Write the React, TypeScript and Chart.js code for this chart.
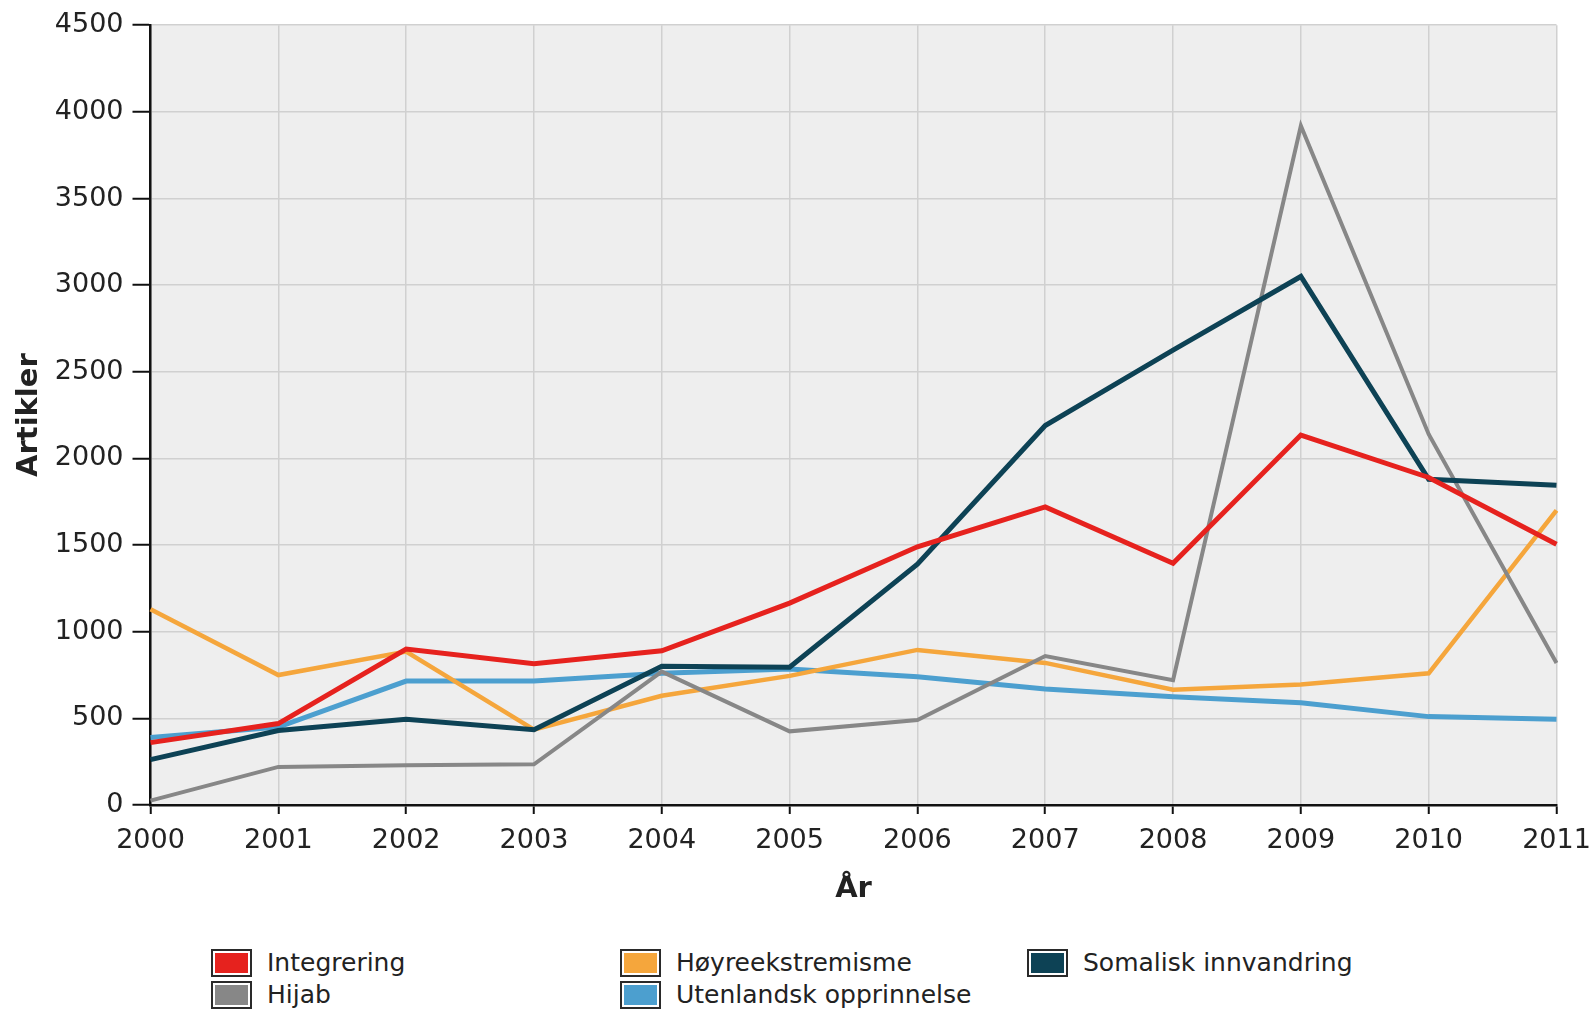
import React, { useEffect, useRef } from "react";
import { Chart, registerables } from "chart.js";

Chart.register(...registerables);

const years = ["2000", "2001", "2002", "2003", "2004", "2005", "2006", "2007", "2008", "2009", "2010", "2011"];
const integrering = [360, 470, 900, 815, 890, 1165, 1490, 1720, 1395, 2135, 1890, 1505];
const hijab = [25, 220, 230, 235, 770, 425, 490, 860, 720, 3920, 2140, 820];
const hoyreekstremisme = [1130, 750, 885, 435, 630, 745, 895, 820, 665, 695, 760, 1700];
const utenlandsk = [390, 450, 715, 715, 760, 785, 740, 670, 625, 590, 510, 495];
const somalisk = [262, 430, 495, 435, 800, 795, 1390, 2190, 2625, 3050, 1880, 1845];
const yMin = 0;
const yMax = 4500;
const yStep = 500;

const COLORS = {
  red: "#e6221e",
  gray: "#878787",
  orange: "#f5a63c",
  blue: "#4c9fcf",
  teal: "#0d4255",
};

const legendItems = [
  { label: "Integrering", color: COLORS.red, col: 0, row: 0 },
  { label: "Hijab", color: COLORS.gray, col: 0, row: 1 },
  { label: "Høyreekstremisme", color: COLORS.orange, col: 1, row: 0 },
  { label: "Utenlandsk opprinnelse", color: COLORS.blue, col: 1, row: 1 },
  { label: "Somalisk innvandring", color: COLORS.teal, col: 2, row: 0 },
];
const legendColX = [211, 620, 1027];
const legendRowY = [949, 981];

const plotBg = {
  id: "plotBg",
  beforeDraw(chart: any) {
    const { ctx, chartArea: a } = chart;
    ctx.save();
    ctx.fillStyle = "#eeeeee";
    ctx.fillRect(a.left, a.top, a.right - a.left, a.bottom - a.top);
    ctx.restore();
  },
};

export default function App() {
  const ref = useRef<HTMLCanvasElement | null>(null);

  useEffect(() => {
    if (!ref.current) return;
    Chart.defaults.font.family = "'DejaVu Sans', sans-serif";
    const ds = (label: string, data: number[], color: string, order: number, width = 5) => ({
      label,
      data,
      borderColor: color,
      backgroundColor: color,
      borderWidth: width,
      pointRadius: 0,
      tension: 0,
      fill: false,
      order,
    });
    const chart = new Chart(ref.current, {
      type: "line",
      data: {
        labels: years,
        datasets: [
          ds("Integrering", integrering, COLORS.red, 0),
          ds("Hijab", hijab, COLORS.gray, 2, 4),
          ds("Høyreekstremisme", hoyreekstremisme, COLORS.orange, 3, 4.5),
          ds("Utenlandsk opprinnelse", utenlandsk, COLORS.blue, 4),
          ds("Somalisk innvandring", somalisk, COLORS.teal, 1),
        ],
      },
      options: {
        animation: false,
        responsive: false,
        layout: { padding: { left: 0, top: 25, right: 83.5, bottom: 0 } },
        plugins: { legend: { display: false }, tooltip: { enabled: false } },
        scales: {
          x: {
            grid: { color: "#d0d0d0", lineWidth: 1.5, tickColor: "#111", tickLength: 9, tickWidth: 2 },
            border: { color: "#111", width: 2.5 },
            ticks: { padding: 11, color: "#222", font: { size: 27 }, maxRotation: 0, autoSkip: false },
            title: {
              display: true,
              text: "År",
              color: "#222",
              font: { size: 29, weight: "bold" },
              padding: { top: 4, bottom: 8 },
            },
            afterFit: (s: any) => {
              s.height = 110;
            },
          },
          y: {
            min: yMin,
            max: yMax,
            ticks: {
              stepSize: yStep,
              padding: 9,
              color: "#222",
              font: { size: 27 },
              callback: (v: any) => String(v),
            },
            grid: { color: "#d0d0d0", lineWidth: 1.5, tickColor: "#111", tickLength: 18, tickWidth: 2 },
            border: { color: "#111", width: 2.5 },
            title: {
              display: true,
              text: "Artikler",
              color: "#222",
              font: { size: 29, weight: "bold" },
              padding: { top: 12, bottom: 0 },
            },
            afterFit: (s: any) => {
              s.width = 150.5;
            },
          },
        },
      },
      plugins: [plotBg],
    } as any);
    return () => chart.destroy();
  }, []);

  return (
    <div
      style={{
        position: "fixed",
        left: 0,
        top: 0,
        width: 1595,
        height: 1011,
        overflow: "hidden",
        background: "#fff",
        fontFamily: "'DejaVu Sans', sans-serif",
      }}
    >
      <canvas ref={ref} width={1640} height={915} style={{ position: "absolute", left: 0, top: 0 }} />
      {legendItems.map((it) => (
        <div
          key={it.label}
          style={{
            position: "absolute",
            left: legendColX[it.col],
            top: legendRowY[it.row],
            height: 28,
            display: "flex",
            alignItems: "center",
            whiteSpace: "nowrap",
          }}
        >
          <div
            style={{
              width: 41,
              height: 28,
              boxSizing: "border-box",
              border: "2px solid #2a2a2a",
              boxShadow: "inset 0 0 0 2px #ffffff",
              background: it.color,
            }}
          />
          <span style={{ marginLeft: 15, fontSize: 25, color: "#222", lineHeight: "28px" }}>{it.label}</span>
        </div>
      ))}
    </div>
  );
}
